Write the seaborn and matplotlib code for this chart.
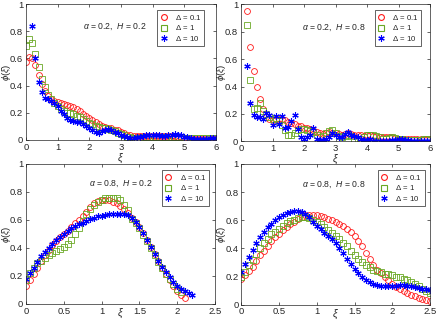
import numpy as np
import pandas as pd
import seaborn as sns
import matplotlib.pyplot as plt
from matplotlib.ticker import FuncFormatter

nan = np.nan

# x grids of the four panels
x_top = np.round(np.arange(0, 6.001, 0.1), 2)
x_bl = np.round(np.arange(0, 2.2001, 0.05), 2)
x_br = np.round(np.arange(0, 2.5001, 0.05), 2)

# alpha=0.2, H=0.2
tl_d01 = [0.57, 0.61, 0.60, 0.55, 0.48, 0.41, 0.36, 0.32, 0.30, 0.29,
          0.28, 0.27, 0.265, 0.26, 0.25, 0.24, 0.225, 0.21, 0.19, 0.175,
          0.16, 0.145, 0.13, 0.115, 0.10, 0.095, 0.09, 0.085, 0.075, 0.07,
          0.06, 0.05, 0.04, 0.035, 0.03, 0.03, 0.03, 0.03, 0.03, 0.03,
          0.03, 0.03, 0.03, 0.03, 0.03, 0.03, 0.03, 0.03, 0.025, 0.02,
          0.015, 0.01, 0.01, 0.005, 0.005, 0.005, 0.005, 0.005, 0.01, 0.01,
          0.01]
tl_d1 = [0.69, 0.74, 0.71, 0.63, 0.54, 0.45, 0.39, 0.33, 0.30, 0.27,
         0.25, 0.23, 0.21, 0.20, 0.195, 0.19, 0.18, 0.17, 0.155, 0.14,
         0.125, 0.115, 0.105, 0.095, 0.09, 0.085, 0.08, 0.075, 0.065, 0.055,
         0.045, 0.035, 0.025, 0.02, 0.015, 0.015, 0.015, 0.02, 0.02, 0.02,
         0.02, 0.02, 0.02, 0.02, 0.02, 0.02, 0.02, 0.02, 0.02, 0.02,
         0.015, 0.015, 0.015, 0.015, 0.015, 0.015, 0.015, 0.015, 0.015, 0.015,
         0.015]
tl_d10 = [nan, nan, 0.84, 0.60, 0.43, 0.35, 0.31, 0.30, 0.29, 0.27,
          0.25, 0.21, 0.19, 0.16, 0.145, 0.14, 0.135, 0.13, 0.12, 0.10,
          0.085, 0.07, 0.06, 0.055, 0.065, 0.075, 0.08, 0.07, 0.06, 0.05,
          0.04, 0.03, 0.02, 0.015, 0.015, 0.02, 0.025, 0.03, 0.035, 0.035,
          0.035, 0.035, 0.035, 0.03, 0.03, 0.035, 0.04, 0.045, 0.04, 0.035,
          0.025, 0.02, 0.015, 0.01, 0.01, 0.01, 0.01, 0.01, 0.015, 0.015,
          0.015]

# alpha=0.2, H=0.8
tr_d01 = [nan, nan, 0.95, 0.69, 0.515, 0.40, 0.31, 0.235, 0.18, 0.16,
          0.155, 0.16, 0.165, 0.165, 0.155, 0.145, 0.135, 0.125, 0.115, 0.11,
          0.10, 0.095, 0.09, 0.08, 0.07, 0.06, 0.055, 0.06, 0.07, 0.065,
          0.06, 0.055, 0.05, 0.055, 0.06, 0.055, 0.05, 0.045, 0.045, 0.04,
          0.045, 0.045, 0.04, 0.04, 0.035, 0.035, 0.035, 0.03, 0.03, 0.025,
          0.02, 0.02, 0.015, 0.015, 0.015, 0.015, 0.015, 0.02, 0.02, 0.02,
          0.02]
tr_d1 = [nan, nan, 0.85, 0.45, 0.24, 0.245, 0.28, 0.22, 0.20, 0.18,
         0.165, 0.17, 0.15, 0.12, 0.08, 0.05, 0.05, 0.06, 0.08, 0.09,
         0.09, 0.08, 0.075, 0.07, 0.05, 0.035, 0.04, 0.06, 0.075, 0.08,
         0.06, 0.04, 0.035, 0.04, 0.05, 0.04, 0.02, 0.01, 0.015, 0.03,
         0.045, 0.05, 0.05, 0.04, 0.03, 0.02, 0.02, 0.025, 0.03, 0.025,
         0.02, 0.015, 0.01, 0.008, 0.008, 0.01, 0.01, 0.012, 0.015, 0.015,
         0.012]
tr_d10 = [nan, nan, 0.55, 0.28, 0.195, 0.175, 0.18, 0.165, 0.21, 0.19,
          0.12, 0.185, 0.125, 0.185, 0.10, 0.105, 0.15, 0.195, 0.09, 0.03,
          0.02, 0.035, 0.045, 0.10, 0.02, 0.01, 0.01, 0.02, 0.03, 0.06,
          0.05, 0.035, 0.03, 0.055, 0.07, 0.05, 0.04, 0.03, 0.015, 0.01,
          0.01, 0.02, 0.005, 0.005, 0.005, 0.005, 0.005, 0.005, 0.01, 0.01,
          0.02, 0.02, 0.01, 0.01, 0.005, 0.005, 0.005, 0.005, 0.005, 0.005,
          0.005]

# alpha=0.8, H=0.2
bl_d01 = [0.13, 0.17, 0.215, 0.26, 0.31, 0.35, 0.385, 0.42, 0.45, 0.48,
          0.50, 0.52, 0.55, 0.575, 0.60, 0.625, 0.66, 0.69, 0.72, 0.735,
          0.745, 0.745, 0.74, 0.73, 0.72, 0.70, 0.68, 0.65, 0.615, 0.585,
          0.55, 0.505, 0.455, 0.405, 0.355, 0.305, 0.26, 0.215, 0.17, 0.13,
          0.09, 0.065, 0.04, nan, nan]
bl_d1 = [0.17, 0.22, 0.26, 0.29, 0.31, 0.33, 0.35, 0.365, 0.38, 0.395,
         0.41, 0.43, 0.46, 0.50, 0.545, 0.59, 0.64, 0.675, 0.705, 0.725,
         0.74, 0.755, 0.76, 0.76, 0.755, 0.74, 0.71, 0.67, 0.61, 0.575,
         0.54, 0.495, 0.45, 0.40, 0.35, 0.30, 0.255, 0.215, 0.18, 0.145,
         0.11, 0.085, nan, nan, nan]
bl_d10 = [0.18, 0.22, 0.26, 0.30, 0.34, 0.37, 0.40, 0.43, 0.455, 0.475,
          0.50, 0.52, 0.54, 0.555, 0.57, 0.58, 0.595, 0.605, 0.615, 0.625,
          0.63, 0.635, 0.64, 0.645, 0.645, 0.645, 0.64, 0.635, 0.615, 0.585,
          0.55, 0.51, 0.46, 0.41, 0.36, 0.31, 0.265, 0.225, 0.19, 0.155,
          0.125, 0.105, 0.09, 0.075, 0.064]

# alpha=0.8, H=0.8
br_d01 = [0.185, 0.21, 0.24, 0.27, 0.31, 0.35, 0.385, 0.42, 0.45, 0.48,
          0.505, 0.53, 0.55, 0.57, 0.59, 0.61, 0.625, 0.635, 0.64, 0.64,
          0.635, 0.63, 0.62, 0.61, 0.60, 0.59, 0.575, 0.56, 0.54, 0.515,
          0.49, 0.455, 0.415, 0.37, 0.325, 0.28, 0.25, 0.225, 0.20, 0.175,
          0.15, 0.125, 0.11, 0.095, 0.08, 0.07, 0.06, 0.05, 0.04, 0.035,
          0.025]
br_d1 = [0.20, 0.235, 0.28, 0.32, 0.36, 0.40, 0.44, 0.47, 0.50, 0.52,
         0.54, 0.56, 0.58, 0.595, 0.605, 0.615, 0.62, 0.62, 0.615, 0.60,
         0.585, 0.57, 0.55, 0.53, 0.51, 0.49, 0.465, 0.44, 0.415, 0.385,
         0.355, 0.325, 0.30, 0.28, 0.265, 0.25, 0.24, 0.23, 0.22, 0.215,
         0.21, 0.20, 0.195, 0.185, 0.175, 0.16, 0.145, 0.13, 0.115, 0.10,
         0.085]
br_d10 = [0.23, 0.29, 0.34, 0.39, 0.44, 0.48, 0.52, 0.55, 0.575, 0.60,
          0.62, 0.635, 0.65, 0.66, 0.665, 0.665, 0.66, 0.645, 0.62, 0.59,
          0.56, 0.535, 0.51, 0.49, 0.465, 0.44, 0.40, 0.365, 0.325, 0.29,
          0.255, 0.225, 0.195, 0.175, 0.16, 0.15, 0.14, 0.135, 0.13, 0.13,
          0.135, 0.135, 0.14, 0.14, 0.135, 0.13, 0.125, 0.12, 0.115, 0.11,
          0.105]

deltas = ['0.1', '1', '10']
panel_x = [x_top, x_top, x_bl, x_br]
panel_y = [[tl_d01, tl_d1, tl_d10], [tr_d01, tr_d1, tr_d10],
           [bl_d01, bl_d1, bl_d10], [br_d01, br_d1, br_d10]]
alphas = ['0.2', '0.2', '0.8', '0.8']
hursts = ['0.2', '0.8', '0.2', '0.8']

#%% style
sns.set_style("ticks")
plt.rcParams['font.family'] = ['Liberation Sans', 'DejaVu Sans']
plt.rcParams['mathtext.fontset'] = 'custom'
plt.rcParams['mathtext.rm'] = 'Liberation Sans'
plt.rcParams['mathtext.it'] = 'Liberation Sans:italic'
plt.rcParams['xtick.direction'] = 'in'
plt.rcParams['ytick.direction'] = 'in'
plt.rcParams['xtick.top'] = True
plt.rcParams['ytick.right'] = True
plt.rcParams['xtick.major.size'] = 2.5
plt.rcParams['ytick.major.size'] = 2.5
plt.rcParams['xtick.major.width'] = 0.5
plt.rcParams['ytick.major.width'] = 0.5
plt.rcParams['axes.linewidth'] = 0.5
plt.rcParams['axes.edgecolor'] = '#262626'

colors = ['#ff1a1a', '#6aa825', '#0000ff']
markers = ['o', 's', (6, 2, 0)]
msizes = [4.2, 4.0, 4.6]
filled = [False, False, True]

# axes boxes in figure fractions [left, bottom, width, height]
boxes = [[0.0596, 0.5639, 0.4358, 0.4236],
         [0.5528, 0.5592, 0.4335, 0.4283],
         [0.0596, 0.0530, 0.4335, 0.4361],
         [0.5534, 0.0508, 0.4328, 0.4383]]
xlims = [(0, 6), (0, 6), (0, 2.5), (0, 2.5)]
ylims = [(0, 1), (0.003, 1), (0, 1), (0.003, 1)]
xticks = [np.arange(0, 7, 1), np.arange(0, 7, 1),
          np.arange(0, 2.51, 0.5), np.arange(0, 2.51, 0.5)]
leg_anchor = [(0.937, 0.956), (0.954, 0.956), (0.968, 0.957), (0.972, 0.957)]
txt_pos = [(0.30, 0.833), (0.323, 0.83), (0.333, 0.857), (0.323, 0.85)]
xlab_y = [-0.085, -0.085, -0.02, -0.02]

fmt = FuncFormatter(lambda v, p: '%g' % round(v, 3))

fig = plt.figure(figsize=(4.36, 3.21), dpi=100)
for p in range(4):
    ax = fig.add_axes(boxes[p])
    for k in range(3):
        df = pd.DataFrame({'xi': panel_x[p], 'phi': panel_y[p][k]}).dropna()
        sns.lineplot(data=df, x='xi', y='phi', ax=ax, estimator=None, sort=False,
                     linestyle='none', marker=markers[k], markersize=msizes[k],
                     markerfacecolor=colors[k] if filled[k] else 'none',
                     markeredgecolor=colors[k], markeredgewidth=0.8 if k == 2 else 0.6,
                     color=colors[k], label='$\\Delta$ = ' + deltas[k], legend=False)
    ax.set_xlim(xlims[p])
    ax.set_ylim(ylims[p])
    ax.set_xticks(xticks[p])
    ax.set_yticks(np.arange(0, 1.01, 0.2))
    ax.xaxis.set_major_formatter(fmt)
    ax.yaxis.set_major_formatter(fmt)
    ax.tick_params(labelsize=6.8, pad=2, colors='#262626')
    ax.set_xlabel('$\\xi$', fontsize=7.5)
    ax.set_ylabel('$\\phi(\\xi)$', fontsize=6.8)
    ax.xaxis.set_label_coords(0.5, xlab_y[p])
    ax.yaxis.set_label_coords(-0.07, 0.5)
    ax.text(txt_pos[p][0], txt_pos[p][1],
            '$\\alpha$ = ' + alphas[p] + ',  $H$ = ' + hursts[p],
            transform=ax.transAxes, fontsize=6.2, va='center', ha='left')
    leg = ax.legend(loc='upper right', bbox_to_anchor=leg_anchor[p], borderaxespad=0,
                    fontsize=5.6, frameon=True, fancybox=False, framealpha=1,
                    edgecolor='#262626', handlelength=0.9, handletextpad=1.0,
                    borderpad=0.35, labelspacing=0.2, numpoints=1)
    leg.get_frame().set_linewidth(0.5)
    for h, c in zip(leg.legend_handles, colors):
        h.set_markeredgecolor(c)
        h.set_markeredgewidth(0.8)

plt.savefig('out.png', dpi=100)
